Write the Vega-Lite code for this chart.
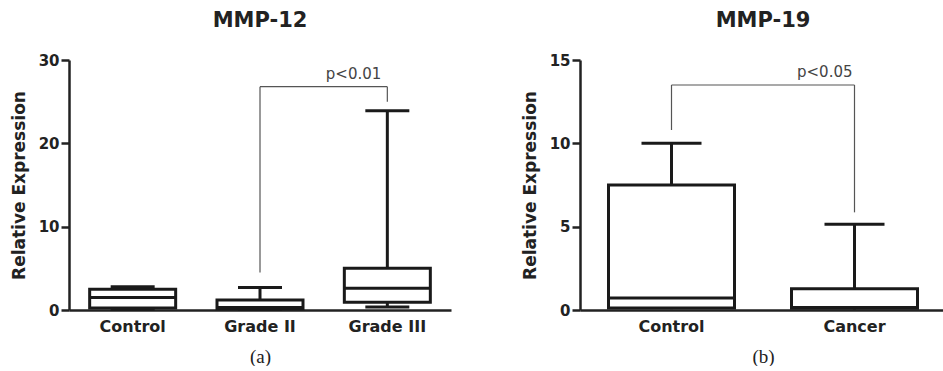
{
  "$schema": "https://vega.github.io/schema/vega-lite/v6.json",
  "padding": {"left": 10, "top": 10, "right": 0, "bottom": 0},
  "spacing": 70,
  "background": "white",
  "config": {
    "view": {"stroke": null},
    "font": "DejaVu Sans",
    "tick": {"opacity": 1},
    "axis": {"domainColor": "#222", "domainWidth": 2.5, "tickColor": "#222", "tickWidth": 2.5, "labelFont": "DejaVu Sans", "labelFontWeight": "bold", "labelColor": "#222", "titleFont": "DejaVu Sans", "titleFontWeight": "bold", "titleColor": "#222", "grid": false},
    "axisY": {"tickSize": 8, "labelFontSize": 15, "labelPadding": 2, "titleFontSize": 17, "titlePadding": 10},
    "axisX": {"ticks": false, "labelAngle": 0, "labelFontSize": 16, "labelPadding": 8, "titleFont": "Liberation Serif", "titleFontWeight": "normal", "titleFontSize": 19, "titlePadding": 13},
    "title": {"fontSize": 21, "font": "DejaVu Sans", "fontWeight": "bold", "color": "#222", "offset": 22}
  },
  "datasets": {
    "mmp12": [
      {"group": "Control", "min": 0.1, "q1": 0.25, "median": 1.5, "q3": 2.5, "max": 2.8},
      {"group": "Grade II", "min": 0.05, "q1": 0.15, "median": 0.3, "q3": 1.2, "max": 2.7},
      {"group": "Grade III", "min": 0.35, "q1": 0.92, "median": 2.6, "q3": 5.0, "max": 23.9}
    ],
    "br12": [
      {"group": "Grade II", "group2": "Grade II", "ya": 4.5, "yb": 26.8},
      {"group": "Grade II", "group2": "Grade III", "ya": 26.8, "yb": 26.8},
      {"group": "Grade III", "group2": "Grade III", "ya": 26.8, "yb": 25.0}
    ],
    "p12": [{"group": "Grade III", "y": 27.7, "label": "p<0.01"}],
    "mmp19": [
      {"group": "Control", "min": 0.05, "q1": 0.12, "median": 0.72, "q3": 7.5, "max": 10.0},
      {"group": "Cancer", "min": 0.03, "q1": 0.1, "median": 0.15, "q3": 1.28, "max": 5.15}
    ],
    "br19": [
      {"group": "Control", "group2": "Control", "ya": 10.8, "yb": 13.5},
      {"group": "Control", "group2": "Cancer", "ya": 13.5, "yb": 13.5},
      {"group": "Cancer", "group2": "Cancer", "ya": 13.5, "yb": 5.86}
    ],
    "p19": [{"group": "Cancer", "y": 14.0, "label": "p<0.05"}]
  },
  "hconcat": [
    {
      "title": "MMP-12",
      "width": 382,
      "height": 250,
      "encoding": {
        "x": {"field": "group", "type": "nominal", "sort": ["Control", "Grade II", "Grade III"], "title": "(a)", "scale": {"paddingInner": 0, "paddingOuter": 0}}
      },
      "layer": [
        {
          "data": {"name": "mmp12"},
          "mark": {"type": "rule", "strokeWidth": 3, "color": "#1a1a1a"},
          "encoding": {
            "y": {"field": "min", "type": "quantitative", "title": "Relative Expression", "scale": {"domain": [0, 30], "nice": false}, "axis": {"values": [0, 10, 20, 30]}},
            "y2": {"field": "max"}
          }
        },
        {
          "data": {"name": "mmp12"},
          "mark": {"type": "bar", "width": 86, "fill": "white", "stroke": "#1a1a1a", "strokeWidth": 3},
          "encoding": {
            "y": {"field": "q1", "type": "quantitative", "title": "Relative Expression", "scale": {"domain": [0, 30], "nice": false}},
            "y2": {"field": "q3"}
          }
        },
        {
          "data": {"name": "mmp12"},
          "mark": {"type": "tick", "size": 86, "thickness": 3, "color": "#1a1a1a", "opacity": 1},
          "encoding": {"y": {"field": "median", "type": "quantitative", "title": "Relative Expression", "scale": {"domain": [0, 30], "nice": false}}}
        },
        {
          "data": {"name": "mmp12"},
          "mark": {"type": "tick", "size": 44, "thickness": 3, "color": "#1a1a1a", "opacity": 1},
          "encoding": {"y": {"field": "max", "type": "quantitative", "title": "Relative Expression", "scale": {"domain": [0, 30], "nice": false}}}
        },
        {
          "data": {"name": "mmp12"},
          "mark": {"type": "tick", "size": 44, "thickness": 3, "color": "#1a1a1a", "opacity": 1},
          "encoding": {"y": {"field": "min", "type": "quantitative", "title": "Relative Expression", "scale": {"domain": [0, 30], "nice": false}}}
        },
        {
          "data": {"name": "br12"},
          "mark": {"type": "rule", "strokeWidth": 1.2, "color": "#555"},
          "encoding": {
            "x2": {"field": "group2"},
            "y": {"field": "ya", "type": "quantitative", "title": "Relative Expression", "scale": {"domain": [0, 30], "nice": false}},
            "y2": {"field": "yb"}
          }
        },
        {
          "data": {"name": "p12"},
          "mark": {"type": "text", "align": "right", "dx": -6, "baseline": "alphabetic", "fontSize": 15, "color": "#444", "font": "DejaVu Sans"},
          "encoding": {
            "y": {"field": "y", "type": "quantitative", "title": "Relative Expression", "scale": {"domain": [0, 30], "nice": false}},
            "text": {"field": "label"}
          }
        }
      ]
    },
    {
      "title": "MMP-19",
      "width": 366,
      "height": 250,
      "encoding": {
        "x": {"field": "group", "type": "nominal", "sort": ["Control", "Cancer"], "title": "(b)", "scale": {"paddingInner": 0, "paddingOuter": 0}}
      },
      "layer": [
        {
          "data": {"name": "mmp19"},
          "mark": {"type": "rule", "strokeWidth": 3, "color": "#1a1a1a"},
          "encoding": {
            "y": {"field": "min", "type": "quantitative", "title": "Relative Expression", "scale": {"domain": [0, 15], "nice": false}, "axis": {"values": [0, 5, 10, 15]}},
            "y2": {"field": "max"}
          }
        },
        {
          "data": {"name": "mmp19"},
          "mark": {"type": "bar", "width": 126, "fill": "white", "stroke": "#1a1a1a", "strokeWidth": 3},
          "encoding": {
            "y": {"field": "q1", "type": "quantitative", "title": "Relative Expression", "scale": {"domain": [0, 15], "nice": false}},
            "y2": {"field": "q3"}
          }
        },
        {
          "data": {"name": "mmp19"},
          "mark": {"type": "tick", "size": 126, "thickness": 3, "color": "#1a1a1a", "opacity": 1},
          "encoding": {"y": {"field": "median", "type": "quantitative", "title": "Relative Expression", "scale": {"domain": [0, 15], "nice": false}}}
        },
        {
          "data": {"name": "mmp19"},
          "mark": {"type": "tick", "size": 60, "thickness": 3, "color": "#1a1a1a", "opacity": 1},
          "encoding": {"y": {"field": "max", "type": "quantitative", "title": "Relative Expression", "scale": {"domain": [0, 15], "nice": false}}}
        },
        {
          "data": {"name": "br19"},
          "mark": {"type": "rule", "strokeWidth": 1.2, "color": "#555"},
          "encoding": {
            "x2": {"field": "group2"},
            "y": {"field": "ya", "type": "quantitative", "title": "Relative Expression", "scale": {"domain": [0, 15], "nice": false}},
            "y2": {"field": "yb"}
          }
        },
        {
          "data": {"name": "p19"},
          "mark": {"type": "text", "align": "right", "dx": -2, "baseline": "alphabetic", "fontSize": 15, "color": "#444", "font": "DejaVu Sans"},
          "encoding": {
            "y": {"field": "y", "type": "quantitative", "title": "Relative Expression", "scale": {"domain": [0, 15], "nice": false}},
            "text": {"field": "label"}
          }
        }
      ]
    }
  ]
}
